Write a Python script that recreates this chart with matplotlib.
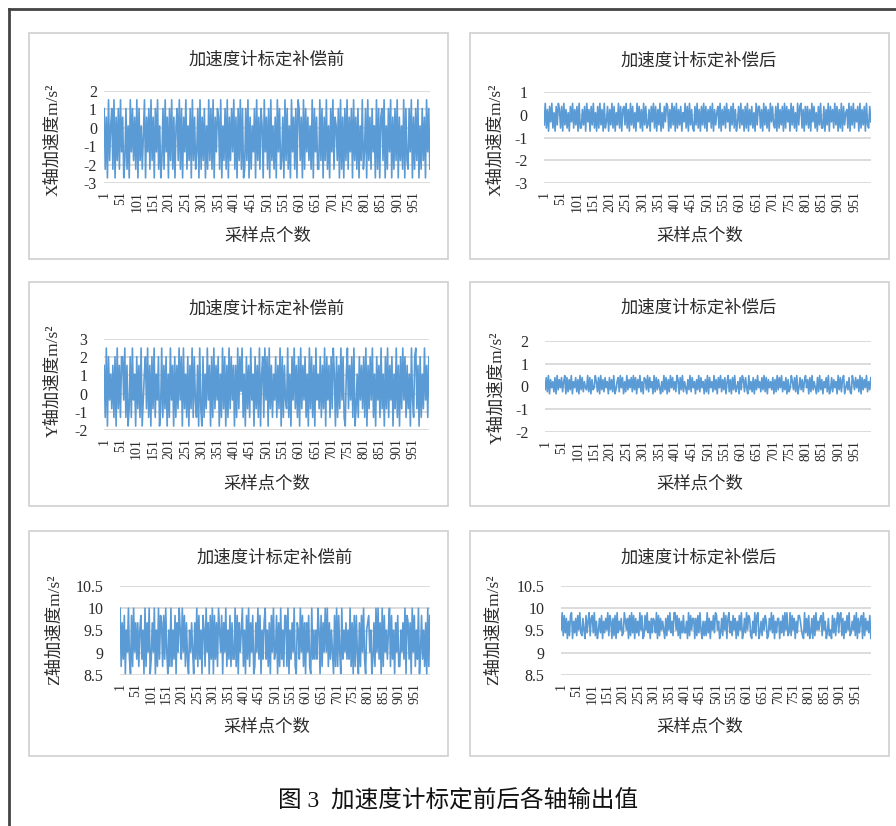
import numpy as np
import matplotlib
matplotlib.use('Agg')
import matplotlib.pyplot as plt
from matplotlib.patches import Rectangle
from matplotlib.lines import Line2D

plt.rcParams['font.family'] = ['Liberation Serif', 'Noto Sans CJK SC']

# sample readings, written as levels 0-9 inside each band (low, high)
x_before_levels = ("81709268190728193702816093827190826159073819270839"
                   "16028193708291706829180739162809271380917280619281"
                   "90738719062819072839170829180182907163809271860937"
                   "18092617093812709281609371809827091837261908371192"
                   "80729160839176280917082917380927180629138092718360"
                   "91807829061839071829072619082183907182906182709381")
x_after_levels = ("29170839160829718092716083917280911728093708291608"
                  "19270913807291806291807829170928160938170928127083"
                  "91807290618398071928091728063918092710829170829180"
                  "73819072681907281937082917038192708190728160928817"
                  "09281709382180917280918370928160928917082817093816"
                  "08291180729083719280719082671908291738091728092183")
y_before_levels = ("71908362718092718839170281936082719036829170829163"
                   "80291728061937081729380926180729183170920816293708"
                   "19273806192807192837071928491608271936082719068193"
                   "80927163817290817329160839271809273816092817093628"
                   "17290837182960817293810692738190261837281907283916"
                   "08371926082917380629170829381726093189270816293718")
y_after_levels = ("28190736180927381690817290638170928163291807239618"
                  "09271836082719026819380619273819280739160872918360"
                  "91827306192807193826197082916307291836072918360719"
                  "08361927083917280691708291360829718309261807293618"
                  "29180736280719283916280713962819038271693708192630"
                  "81927063819028173609281790362810962837190827391628")
z_before_levels = ("91728063920819372716826091739027390619287182930619"
                   "16280739629381720637307291826086193708290827196380"
                   "73916281722918073691608291738017392806279261708392"
                   "38071926188190627391076293817073810926262960817393"
                   "91726308191830926372629170818307183920678360271939"
                   "27091836269182607381163729087270938162903826170918")
z_after_levels = ("39182706189062718392173082691782916037280627391860"
                  "71809263712963708192807261938018392607276290817363"
                  "07183926199381706282260918377071829306161927063829"
                  "83602719380792618370618390272938710629189026173860"
                  "17392806277062819391291837062886310927180270819363"
                  "78193602713082716928917062839126381907268091736280")

x_before_band = (-2.72, 1.52)
x_after_band = (-0.72, 0.5)
y_before_band = (-1.78, 2.5)
y_after_band = (-0.32, 0.48)
z_before_band = (8.53, 10.0)
z_after_band = (9.32, 9.9)

n_samples = 1000
sample_ticks = [1, 51, 101, 151, 201, 251, 301, 351, 401, 451,
                501, 551, 601, 651, 701, 751, 801, 851, 901, 951]

title_before = "加速度计标定补偿前"
title_after = "加速度计标定补偿后"
xlabel = "采样点个数"
caption = "图 3  加速度计标定前后各轴输出值"


def decode(levels, band):
    lo, hi = band
    k = np.array([int(c) for c in levels], dtype=float)
    return lo + k / 9.0 * (hi - lo)


W, H = 896, 826
fig = plt.figure(figsize=(W / 100, H / 100), dpi=100)
fig.patch.set_facecolor('white')

text_col = '#2b2b2b'
line_col = '#5B9BD5'
grid_col = '#D9D9D9'

# outer frame (cropped page)
fig.add_artist(Line2D([9 / W, 9 / W], [0, 1 - 9 / H], transform=fig.transFigure,
                      color='#444444', lw=2))
fig.add_artist(Line2D([9 / W, 1], [1 - 9 / H, 1 - 9 / H], transform=fig.transFigure,
                      color='#444444', lw=2))

# panel boxes
for (x0, x1) in [(29, 448), (470, 889)]:
    for (y0, y1) in [(33, 259), (282, 506), (531, 756)]:
        fig.add_artist(Rectangle((x0 / W, 1 - y1 / H), (x1 - x0) / W, (y1 - y0) / H,
                                 transform=fig.transFigure, fill=False,
                                 edgecolor='#D0D0D0', lw=1.2))

panels = [
    # data, band, plot box px, yticks, ylabels, ylabel, title, title pos, xlabel pos, ylabel pos, ypad
    (x_before_levels, x_before_band, (104, 91, 430, 183), [-3, -2, -1, 0, 1, 2],
     ['-3', '-2', '-1', '0', '1', '2'], "X轴加速度m/s²", title_before,
     (267, 61), (268, 237), (53, 140), 5),
    (x_after_levels, x_after_band, (544, 92, 871, 183), [-3, -2, -1, 0, 1],
     ['-3', '-2', '-1', '0', '1'], "X轴加速度m/s²", title_after,
     (699, 62), (700, 237), (496, 140), 12),
    (y_before_levels, y_before_band, (104, 339, 429, 430), [-2, -1, 0, 1, 2, 3],
     ['-2', '-1', '0', '1', '2', '3'], "Y轴加速度m/s²", title_before,
     (267, 310), (267, 485), (53, 381), 12),
    (y_after_levels, y_after_band, (545, 341, 871, 432), [-2, -1, 0, 1, 2],
     ['-2', '-1', '0', '1', '2'], "Y轴加速度m/s²", title_after,
     (699, 309), (700, 485), (497, 388), 12),
    (z_before_levels, z_before_band, (120, 586, 430, 675), [8.5, 9, 9.5, 10, 10.5],
     ['8.5', '9', '9.5', '10', '10.5'], "Z轴加速度m/s²", title_before,
     (275, 559), (267, 728), (55, 630), 12),
    (z_after_levels, z_after_band, (561, 586, 871, 675), [8.5, 9, 9.5, 10, 10.5],
     ['8.5', '9', '9.5', '10', '10.5'], "Z轴加速度m/s²", title_after,
     (699, 559), (700, 728), (494, 630), 12),
]

for levels, band, box, yt, ytl, ylab, title, tpos, xlpos, ylpos, ypad in panels:
    x0, y0, x1, y1 = box
    ax = fig.add_axes([x0 / W, 1 - y1 / H, (x1 - x0) / W, (y1 - y0) / H])
    vals = decode(levels, band)
    xs = np.linspace(1, n_samples, len(vals))
    ax.plot(xs, vals, color=line_col, lw=1.2, zorder=3)
    ax.set_xlim(0.5, n_samples + 0.5)
    ax.set_ylim(yt[0], yt[-1])
    ax.set_yticks(yt)
    ax.set_yticklabels(ytl, fontsize=11.5, color=text_col)
    ax.set_xticks(sample_ticks)
    ax.set_xticklabels([str(t) for t in sample_ticks], rotation=90, fontsize=10,
                       color=text_col, va='top', ha='center')
    ax.tick_params(axis='both', length=0)
    ax.tick_params(axis='y', pad=ypad)
    ax.tick_params(axis='x', pad=6)
    for s in ax.spines.values():
        s.set_visible(False)
    ax.grid(axis='y', color=grid_col, lw=1.3)
    ax.set_axisbelow(True)
    ax.patch.set_alpha(0)

    fig.text(tpos[0] / W, 1 - tpos[1] / H, title, fontsize=12.5, color=text_col,
             ha='center', va='center')
    fig.text(xlpos[0] / W, 1 - xlpos[1] / H, xlabel, fontsize=12.5, color=text_col,
             ha='center', va='center')
    fig.text(ylpos[0] / W, 1 - ylpos[1] / H, ylab, fontsize=12.5, color=text_col,
             ha='center', va='center', rotation=90)

fig.text(458 / W, 1 - 800 / H, caption, fontsize=17, color='#111111',
         ha='center', va='center')

fig.savefig('out.png', dpi=100)
